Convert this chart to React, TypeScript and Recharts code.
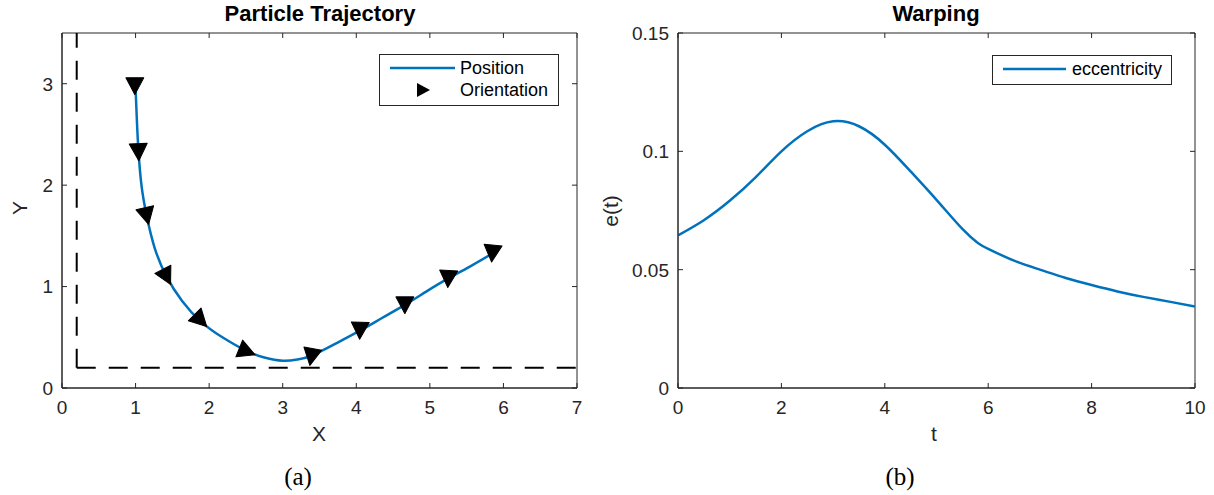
import React from "react";
import {
  ComposedChart,
  Line,
  LineChart,
  ReferenceArea,
  ReferenceLine,
  Scatter,
  XAxis,
  YAxis
} from "recharts";

// (a) particle trajectory
const trajX = [1.0, 1.02, 1.04, 1.08, 1.15, 1.26, 1.42, 1.63, 1.88, 2.18, 2.51, 2.75, 3.0, 3.2, 3.39, 3.7, 4.05, 4.35, 4.66, 4.95, 5.25, 5.55, 5.86];
const trajY = [2.95, 2.6, 2.33, 2.0, 1.7, 1.38, 1.1, 0.86, 0.66, 0.5, 0.365, 0.3, 0.268, 0.28, 0.318, 0.43, 0.565, 0.69, 0.82, 0.95, 1.08, 1.2, 1.33];

const markerX = [0.99, 1.04, 1.15, 1.42, 1.88, 2.51, 3.39, 4.05, 4.66, 5.25, 5.85];
const markerY = [2.98, 2.33, 1.7, 1.1, 0.67, 0.36, 0.31, 0.57, 0.82, 1.08, 1.33];
const markerAngle = [90, 88, 77, 63, 45, 22, 100, 92, 90, 93, 95];

const xTicksA = [0, 1, 2, 3, 4, 5, 6, 7];
const yTicksA = [0, 1, 2, 3];

// (b) warping
const tValues = [0, 0.5, 1, 1.5, 2, 2.5, 3, 3.5, 4, 4.5, 5, 5.5, 5.8, 6, 6.5, 7, 7.5, 8, 8.5, 9, 9.5, 10];
const eValues = [0.0645, 0.0709, 0.0791, 0.089, 0.1, 0.1085, 0.1127, 0.1106, 0.1028, 0.0915, 0.0795, 0.0672, 0.0613, 0.0588, 0.0538, 0.05, 0.0465, 0.0435, 0.0408, 0.0385, 0.0365, 0.0344];

const xTicksB = [0, 2, 4, 6, 8, 10];
const yTicksB = [0, 0.05, 0.1, 0.15];

const trajectory = trajX.map((x, i) => ({ x, y: trajY[i] }));
const markers = markerX.map((x, i) => ({ x, y: markerY[i], angle: markerAngle[i] }));
const ecc = tValues.map((t, i) => ({ t, e: eValues[i] }));

const AXIS = "#262626";
const BLUE = "#0072BD";
const TICK = 5;
const PH = 355;
const FONT = '"Liberation Sans", Arial, Helvetica, sans-serif';
const SERIF = '"Liberation Serif", "Times New Roman", serif';

function bottomTick(plotH: number) {
  return (props: any) => {
    const { x, y, payload } = props;
    return (
      <g>
        <line x1={x} x2={x} y1={y} y2={y - TICK} stroke={AXIS} />
        <line x1={x} x2={x} y1={y - plotH} y2={y - plotH + TICK} stroke={AXIS} />
        <text x={x} y={y + 26} textAnchor="middle" fill={AXIS} fontSize={19}>
          {payload.value}
        </text>
      </g>
    );
  };
}

function leftTick(plotW: number) {
  return (props: any) => {
    const { x, y, payload } = props;
    return (
      <g>
        <line x1={x} x2={x + TICK} y1={y} y2={y} stroke={AXIS} />
        <line x1={x + plotW} x2={x + plotW - TICK} y1={y} y2={y} stroke={AXIS} />
        <text x={x - 9} y={y} dy="0.36em" textAnchor="end" fill={AXIS} fontSize={19}>
          {String(payload.value)}
        </text>
      </g>
    );
  };
}

function Arrow(props: any) {
  const { cx, cy, payload } = props;
  if (cx == null || cy == null) return null;
  return (
    <polygon
      points="9,0 -8,-9 -8,9"
      fill="#000"
      stroke="#000"
      strokeWidth={1}
      strokeLinejoin="round"
      transform={`translate(${cx},${cy}) rotate(${payload.angle})`}
    />
  );
}

function TrajectoryChart() {
  return (
    <ComposedChart
      width={600}
      height={495}
      margin={{ top: 33, right: 23, bottom: 67, left: 22 }}
    >
      <XAxis
        dataKey="x"
        type="number"
        domain={[0, 7]}
        ticks={xTicksA}
        allowDataOverflow
        height={40}
        tickSize={0}
        tickMargin={0}
        tickLine={false}
        axisLine={{ stroke: AXIS }}
        tick={bottomTick(PH)}
        interval={0}
      />
      <YAxis
        dataKey="y"
        type="number"
        domain={[0, 3.5]}
        ticks={yTicksA}
        allowDataOverflow
        width={40}
        tickSize={0}
        tickMargin={0}
        tickLine={false}
        axisLine={{ stroke: AXIS }}
        tick={leftTick(515)}
        interval={0}
      />
      <ReferenceLine
        segment={[{ x: 0.2, y: 0.2 }, { x: 0.2, y: 3.5 }]}
        stroke="#000"
        strokeWidth={2}
        strokeDasharray="19 13"
      />
      <ReferenceLine
        segment={[{ x: 0.2, y: 0.2 }, { x: 7, y: 0.2 }]}
        stroke="#000"
        strokeWidth={2}
        strokeDasharray="19 13"
      />
      <Line
        data={trajectory}
        dataKey="y"
        type="natural"
        stroke={BLUE}
        strokeWidth={2.5}
        dot={false}
        activeDot={false}
        isAnimationActive={false}
      />
      <Scatter
        data={markers}
        dataKey="y"
        shape={(p: any) => <Arrow {...p} />}
        isAnimationActive={false}
      />
      <ReferenceArea x1={0} x2={7} y1={0} y2={3.5} fill="none" stroke={AXIS} strokeWidth={1} />
    </ComposedChart>
  );
}

function WarpingChart() {
  return (
    <LineChart
      width={614}
      height={495}
      data={ecc}
      margin={{ top: 33, right: 19, bottom: 67, left: 38 }}
    >
      <XAxis
        dataKey="t"
        type="number"
        domain={[0, 10]}
        ticks={xTicksB}
        allowDataOverflow
        height={40}
        tickSize={0}
        tickMargin={0}
        tickLine={false}
        axisLine={{ stroke: AXIS }}
        tick={bottomTick(PH)}
        interval={0}
      />
      <YAxis
        type="number"
        domain={[0, 0.15]}
        ticks={yTicksB}
        allowDataOverflow
        width={40}
        tickSize={0}
        tickMargin={0}
        tickLine={false}
        axisLine={{ stroke: AXIS }}
        tick={leftTick(517)}
        interval={0}
      />
      <Line
        dataKey="e"
        type="natural"
        stroke={BLUE}
        strokeWidth={2.5}
        dot={false}
        activeDot={false}
        isAnimationActive={false}
      />
      <ReferenceArea x1={0} x2={10} y1={0} y2={0.15} fill="none" stroke={AXIS} strokeWidth={1} />
    </LineChart>
  );
}

export default function App() {
  return (
    <div
      style={{
        position: "absolute",
        left: 0,
        top: 0,
        width: 1214,
        height: 495,
        background: "#fff",
        fontFamily: FONT,
        overflow: "hidden"
      }}
    >
      <div style={{ position: "absolute", left: 0, top: 0 }}>
        <TrajectoryChart />
      </div>
      <div style={{ position: "absolute", left: 600, top: 0 }}>
        <WarpingChart />
      </div>
      <svg
        width={1214}
        height={495}
        style={{ position: "absolute", left: 0, top: 0, pointerEvents: "none" }}
        fontFamily={FONT}
      >
        {/* titles */}
        <text x={320} y={21} textAnchor="middle" fontSize={22} fontWeight="bold" fill="#000">
          Particle Trajectory
        </text>
        <text x={936} y={21} textAnchor="middle" fontSize={22} fontWeight="bold" fill="#000">
          Warping
        </text>
        {/* axis labels */}
        <text x={319} y={441} textAnchor="middle" fontSize={21} fill={AXIS}>X</text>
        <text x={934} y={441} textAnchor="middle" fontSize={21} fill={AXIS}>t</text>
        <text x={27} y={208} textAnchor="middle" fontSize={21} fill={AXIS} transform="rotate(-90 27 208)">Y</text>
        <text x={618} y={211} textAnchor="middle" fontSize={21} fill={AXIS} transform="rotate(-90 618 211)">e(t)</text>
        {/* captions */}
        <text x={298} y={485} textAnchor="middle" fontSize={25} fill="#000" fontFamily={SERIF}>(a)</text>
        <text x={900} y={485} textAnchor="middle" fontSize={25} fill="#000" fontFamily={SERIF}>(b)</text>
        {/* legend (a) */}
        <rect x={379.5} y={54.5} width={179} height={51} fill="#fff" stroke={AXIS} strokeWidth={1} />
        <line x1={390} x2={455} y1={68} y2={68} stroke={BLUE} strokeWidth={2.5} />
        <text x={460} y={74} fontSize={18} fill="#000">Position</text>
        <polygon points="430,90 417,83 417,97" fill="#000" />
        <text x={460} y={96} fontSize={18} fill="#000">Orientation</text>
        {/* legend (b) */}
        <rect x={992.5} y={55.5} width={179} height={29} fill="#fff" stroke={AXIS} strokeWidth={1} />
        <line x1={1003} x2={1066} y1={69} y2={69} stroke={BLUE} strokeWidth={2.5} />
        <text x={1072} y={75} fontSize={18} fill="#000">eccentricity</text>
      </svg>
    </div>
  );
}
